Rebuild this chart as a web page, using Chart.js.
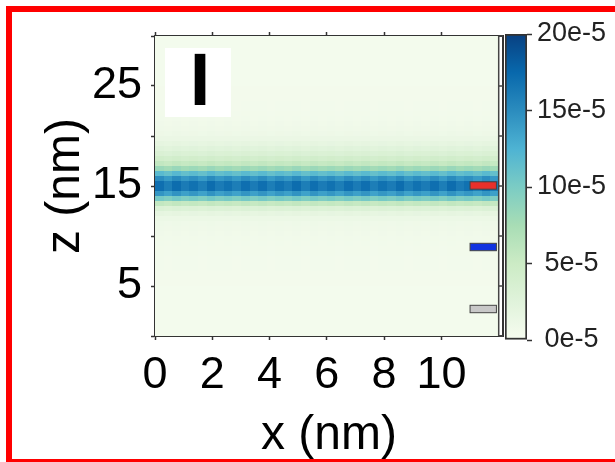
<!DOCTYPE html>
<html lang="en">
  <head>
    <meta charset="UTF-8" />
    <title>Density map I</title>
    <style>
      html, body { margin: 0; overflow: hidden; }
      body { width: 615px; height: 462px; background: #fff; position: relative; }
      canvas { position: absolute; top: 0; }
      #main { left: 0; }
      #cbar { left: 480px; }
      #frame { position: absolute; left: 6px; top: 6px; width: 640px; height: 447px; border: 6px solid #ff0000; border-right: none; pointer-events: none; }
    </style>
  </head>
  <body>
    <canvas id="main" width="615" height="462"></canvas>
    <canvas id="cbar" width="135" height="462"></canvas>
    <div id="frame"></div>

    <script src="https://cdn.jsdelivr.net/npm/chart.js"></script>
    <script>
      // axis ticks
      const xTicks = [0, 2, 4, 6, 8, 10];
      const zTicks = [0, 5, 10, 15, 20, 25, 30];
      const zTickLabels = ["", "5", "", "15", "", "25", ""];
      const cbTicks = [0, 5e-5, 10e-5, 15e-5, 20e-5];
      const cbTickLabels = ["0e-5", "5e-5", "10e-5", "15e-5", "20e-5"];

      // density profile along z (rows of 0.5 nm from z = 0 upward), units of 1e-5
      const zProfile = [
        0.4, 0.4, 0.4, 0.4, 0.4, 0.4, 0.4, 0.4, 0.4, 0.4,
        0.45, 0.45, 0.45, 0.5, 0.5, 0.5, 0.55, 0.55, 0.6, 0.65,
        0.7, 0.8, 0.9, 1.2, 1.8, 3.0, 5.5, 10.0, 14.0, 16.5,
        16.5, 14.5, 11.5, 8.0, 5.5, 4.2, 3.2, 2.4, 1.8, 1.3,
        1.0, 0.8, 0.7, 0.6, 0.55, 0.5, 0.5, 0.45, 0.45, 0.45,
        0.4, 0.4, 0.4, 0.4, 0.4, 0.4, 0.4, 0.4, 0.4, 0.4,
      ];
      // ripple along x (columns of 0.3 nm from x = 0)
      const xRipple = [
        1.03, 0.97, 1.04, 0.98, 1.02, 0.97, 1.04, 0.98, 1.02, 0.97,
        1.03, 0.98, 1.03, 0.97, 1.02, 0.98, 1.04, 0.97, 1.03, 0.98,
        1.02, 0.97, 1.03, 0.98, 1.03, 0.97, 1.02, 0.98, 1.04, 0.97,
        1.02, 0.98, 1.03, 0.97, 1.04, 0.98, 1.02, 0.97, 1.03, 0.98,
      ];
      const xStep = 0.3;
      const zStep = 0.5;

      // layer markers on the right edge
      const markerZ = [15.05, 8.9, 2.7];
      const markerColors = ["#e8302a", "#1033e0", "#c8c8c8"];

      // GnBu colour map, 0 .. 20e-5
      const cmap = ["#f7fcf0", "#e0f3db", "#ccebc5", "#a8ddb5", "#7bccc4", "#4eb3d3", "#2b8cbe", "#0868ac", "#084081"];

      function hexRgb(h) {
        return [parseInt(h.slice(1, 3), 16), parseInt(h.slice(3, 5), 16), parseInt(h.slice(5, 7), 16)];
      }
      function gnbu(v) {
        let t = Math.max(0, Math.min(1, v / 20)) * (cmap.length - 1);
        const i = Math.min(cmap.length - 2, Math.floor(t));
        const f = t - i;
        const a = hexRgb(cmap[i]), b = hexRgb(cmap[i + 1]);
        const c = a.map((k, n) => Math.round(k + (b[n] - k) * f));
        return "rgb(" + c.join(",") + ")";
      }

      const font = "'Liberation Sans', Arial, sans-serif";

      const heatPlugin = {
        id: "heat",
        beforeDatasetsDraw(chart) {
          const { ctx, scales } = chart;
          const x = scales.x, y = scales.y;
          ctx.save();
          for (let i = 0; i < zProfile.length; i++) {
            const yTop = Math.round(y.getPixelForValue((i + 1) * zStep));
            const yBot = Math.round(y.getPixelForValue(i * zStep));
            for (let j = 0; j < xRipple.length; j++) {
              const x0 = Math.round(x.getPixelForValue(j * xStep));
              const x1 = Math.round(x.getPixelForValue((j + 1) * xStep));
              ctx.fillStyle = gnbu(zProfile[i] * xRipple[j]);
              ctx.fillRect(x0, yTop, x1 - x0, yBot - yTop);
            }
          }
          ctx.restore();
        },
        afterDatasetsDraw(chart) {
          const { ctx, scales, chartArea } = chart;
          const x = scales.x, y = scales.y;
          ctx.save();
          // edge line at x = 12 and its inward ticks
          const xe = x.getPixelForValue(12);
          ctx.strokeStyle = "#444";
          ctx.lineWidth = 1.5;
          ctx.beginPath();
          ctx.moveTo(xe, chartArea.top);
          ctx.lineTo(xe, chartArea.bottom);
          zTicks.forEach((v) => {
            const py = y.getPixelForValue(v);
            ctx.moveTo(xe, py);
            ctx.lineTo(chartArea.right, py);
          });
          ctx.stroke();

          // layer markers
          markerZ.forEach((z, k) => {
            const xa = x.getPixelForValue(11.0), xb = x.getPixelForValue(11.92);
            const ya = y.getPixelForValue(z + 0.37), yb = y.getPixelForValue(z - 0.37);
            ctx.fillStyle = markerColors[k];
            ctx.fillRect(xa, ya, xb - xa, yb - ya);
            ctx.strokeStyle = "#444";
            ctx.lineWidth = 1;
            ctx.strokeRect(xa, ya, xb - xa, yb - ya);
          });

          // panel label
          const bx0 = x.getPixelForValue(0.35), bx1 = x.getPixelForValue(2.65);
          const by0 = y.getPixelForValue(28.8), by1 = y.getPixelForValue(21.9);
          ctx.fillStyle = "#fff";
          ctx.fillRect(bx0, by0, bx1 - bx0, by1 - by0);
          ctx.fillStyle = "#000";
          ctx.font = "bold 74px " + font;
          ctx.textAlign = "center";
          ctx.textBaseline = "alphabetic";
          ctx.fillText("I", x.getPixelForValue(1.57), y.getPixelForValue(23.1));
          ctx.restore();
        },
      };

      const axisColor = "#333";

      new Chart(document.getElementById("main").getContext("2d"), {
        type: "scatter",
        data: { datasets: [] },
        plugins: [heatPlugin],
        options: {
          responsive: false,
          animation: false,
          layout: { padding: { top: 35, right: 112, left: 0, bottom: 0 } },
          plugins: { legend: { display: false }, tooltip: { enabled: false } },
          scales: {
            x: {
              type: "linear",
              position: "bottom",
              min: 0,
              max: 12.15,
              afterFit: (s) => { s.height = 126; },
              afterBuildTicks: (s) => { s.ticks = xTicks.map((v) => ({ value: v })); },
              ticks: { autoSkip: false, maxRotation: 0, color: "#000", padding: 9, font: { family: font, size: 45, lineHeight: 1.2 } },
              grid: { drawOnChartArea: false, drawTicks: true, tickLength: 4, color: axisColor, tickWidth: 1.5 },
              border: { display: true, color: axisColor, width: 2 },
              title: { display: true, text: "x (nm)", color: "#000", padding: { top: 0, bottom: 2 }, font: { family: font, size: 48, lineHeight: 1 } },
            },
            x2: {
              type: "linear",
              position: "top",
              min: 0,
              max: 12.15,
              afterFit: (s) => { s.height = 0; },
              afterBuildTicks: (s) => { s.ticks = xTicks.map((v) => ({ value: v })); },
              ticks: { display: false },
              grid: { drawOnChartArea: false, drawTicks: true, tickLength: 4, color: axisColor, tickWidth: 1.5 },
              border: { display: true, color: axisColor, width: 2 },
            },
            y: {
              type: "linear",
              position: "left",
              min: 0,
              max: 30,
              afterFit: (s) => { s.width = 155; },
              afterBuildTicks: (s) => { s.ticks = zTicks.map((v) => ({ value: v })); },
              ticks: {
                autoSkip: false,
                color: "#000",
                padding: 9,
                font: { family: font, size: 45, lineHeight: 1.2 },
                callback: (v, i) => zTickLabels[i],
              },
              grid: { drawOnChartArea: false, drawTicks: true, tickLength: 4, color: axisColor, tickWidth: 1.5 },
              border: { display: true, color: axisColor, width: 2 },
              title: { display: true, text: "z (nm)", color: "#000", padding: { top: 42, bottom: 0 }, font: { family: font, size: 48, lineHeight: 1 } },
            },
            y2: {
              type: "linear",
              position: "right",
              min: 0,
              max: 30,
              afterFit: (s) => { s.width = 0; },
              ticks: { display: false },
              grid: { drawOnChartArea: false, drawTicks: false },
              border: { display: true, color: axisColor, width: 2 },
            },
          },
        },
      });

      // colour bar
      new Chart(document.getElementById("cbar").getContext("2d"), {
        type: "bar",
        data: {
          labels: ["density"],
          datasets: [
            {
              data: [[cbTicks[0], cbTicks[cbTicks.length - 1]]],
              borderWidth: 2,
              borderColor: axisColor,
              borderSkipped: false,
              barPercentage: 1,
              categoryPercentage: 1,
              backgroundColor: (c) => {
                const ch = c.chart;
                if (!ch.chartArea) return cmap[0];
                const s = ch.scales.y;
                const g = ch.ctx.createLinearGradient(0, s.getPixelForValue(0), 0, s.getPixelForValue(20e-5));
                cmap.forEach((col, k) => g.addColorStop(k / (cmap.length - 1), col));
                return g;
              },
            },
          ],
        },
        options: {
          responsive: false,
          animation: false,
          layout: { padding: { top: 34, left: 25, right: 0, bottom: 122 } },
          plugins: { legend: { display: false }, tooltip: { enabled: false } },
          scales: {
            x: { display: false },
            y: {
              position: "right",
              min: 0,
              max: 20e-5,
              afterFit: (s) => { s.width = 88; },
              afterBuildTicks: (s) => { s.ticks = cbTicks.map((v) => ({ value: v })); },
              ticks: {
                autoSkip: false,
                color: "#222",
                padding: 5,
                crossAlign: "center",
                font: { family: font, size: 27 },
                callback: (v, i) => cbTickLabels[i],
              },
              grid: { drawOnChartArea: false, drawTicks: true, tickLength: 5, color: axisColor, tickWidth: 1.5 },
              border: { display: false },
            },
          },
        },
      });
    </script>
  </body>
</html>
